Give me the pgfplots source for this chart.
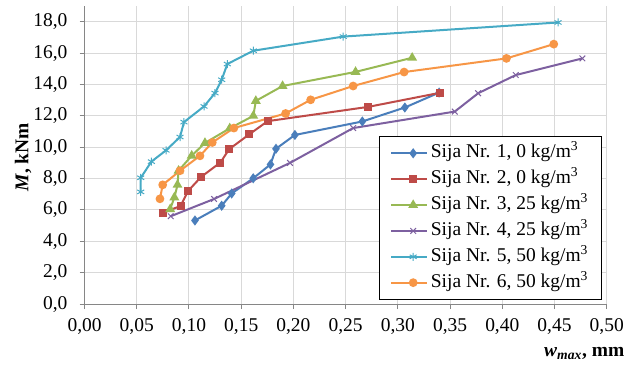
\documentclass[border=0pt]{standalone}
\usepackage{fontspec}
\setmainfont{Liberation Serif}
\usepackage{pgfplots}
\pgfplotsset{compat=1.18}
\definecolor{s1}{HTML}{4A7EBB}
\definecolor{s2}{HTML}{BE4B48}
\definecolor{s3}{HTML}{98B954}
\definecolor{s4}{HTML}{7D60A0}
\definecolor{s5}{HTML}{46AAC5}
\definecolor{s6}{HTML}{F79646}
\definecolor{gridc}{HTML}{D9D9D9}
\definecolor{axc}{HTML}{868686}
\begin{document}
\fontsize{14.6}{17}\selectfont
\begin{tikzpicture}
\begin{axis}[
  name=ax,
  scale only axis,
  width=391.5pt, height=223.5pt,
  xmin=0, xmax=0.5, ymin=0, ymax=19,
  xtick={0,0.05,0.1,0.15,0.2,0.25,0.3,0.35,0.4,0.45,0.5},
  ytick={0,2,4,6,8,10,12,14,16,18},
  axis x line*=bottom, axis y line*=left,
  axis line style={axc, line width=0.75pt, -},
  tick align=outside,
  major tick length=3.75pt,
  tick style={axc, line width=0.75pt},
  grid=major,
  major grid style={gridc, line width=0.75pt},
  /pgf/number format/assume math mode=true,
  xticklabel style={yshift=-2pt, /pgf/number format/.cd, fixed, fixed zerofill, precision=2, use comma},
  yticklabel style={xshift=-4pt, /pgf/number format/.cd, fixed, fixed zerofill, precision=1, use comma},
  every tick label/.append style={font=\fontsize{14.6}{17}\selectfont, text=black},
  ylabel={\textbf{\textit{M}, kNm}},
  ylabel style={at={(rel axis cs:0,0.5)}, anchor=center, yshift=46pt, xshift=-1.5pt, font=\fontsize{14.6}{17}\selectfont},
  xlabel={\textbf{\textit{w}\textsubscript{\textit{max}}, mm}},
  xlabel style={at={(rel axis cs:1,0)}, anchor=base east, xshift=18.2pt, yshift=-39.5pt, font=\fontsize{14.6}{17}\selectfont},
  legend cell align=left,
  legend style={at={(rel axis cs:0.991,0.0134)}, anchor=south east, draw=black, line width=0.75pt,
    font=\fontsize{14.6}{17}\selectfont, inner xsep=8pt, inner ysep=3pt,
    nodes={inner ysep=2.2pt, text height=11pt, text depth=4pt},
    /tikz/every even column/.append style={column sep=5pt}},
  legend image code/.code={\path (0pt,0pt) -- (6pt,0pt); \draw[#1, line width=1.5pt, mark repeat=2, mark phase=2] plot coordinates {(6pt,0pt) (16.5pt,0pt) (27pt,0pt)};},
  every axis plot/.append style={line width=1.5pt},
]
\addplot[s1, mark=diamond*, mark size=2.6pt, mark options={solid, fill=s1}] coordinates {
(0.1057,5.33) (0.1313,6.27) (0.1409,7.05) (0.1615,8.02) (0.178,8.9) (0.1833,9.9) (0.2014,10.78) (0.266,11.64) (0.3067,12.53) (0.3395,13.48)};
\addlegendentry{Sija Nr. 1, 0 kg/m\textsuperscript{3}}
\addplot[s2, mark=square*, mark size=2.2pt, mark options={solid, fill=s2}] coordinates {
(0.0754,5.82) (0.092,6.26) (0.099,7.2) (0.1115,8.1) (0.130,9.02) (0.1386,9.88) (0.1577,10.82) (0.1753,11.66) (0.2716,12.57) (0.3405,13.47)};
\addlegendentry{Sija Nr. 2, 0 kg/m\textsuperscript{3}}
\addplot[s3, mark=triangle*, mark size=2.8pt, mark options={solid, fill=s3}] coordinates {
(0.082,6.05) (0.086,6.8) (0.089,7.6) (0.090,8.5) (0.1026,9.46) (0.1153,10.27) (0.139,11.2) (0.1616,12.0) (0.164,12.95) (0.1896,13.9) (0.2595,14.8) (0.3137,15.7)};
\addlegendentry{Sija Nr. 3, 25 kg/m\textsuperscript{3}}
\addplot[s4, mark=x, mark size=3pt, mark options={solid, line width=0.75pt}] coordinates {
(0.0825,5.6) (0.124,6.7) (0.1967,9.0) (0.2572,11.22) (0.3545,12.27) (0.3769,13.44) (0.4129,14.6) (0.4767,15.66)};
\addlegendentry{Sija Nr. 4, 25 kg/m\textsuperscript{3}}
\addplot[s5, mark=asterisk, mark size=3pt, mark options={solid, line width=0.75pt}] coordinates {
(0.0538,7.15) (0.0538,8.05) (0.064,9.08) (0.078,9.8) (0.0914,10.65) (0.0952,11.6) (0.1144,12.6) (0.1249,13.45) (0.1313,14.3) (0.1367,15.3) (0.1616,16.15) (0.2477,17.05) (0.4534,17.95)};
\addlegendentry{Sija Nr. 5, 50 kg/m\textsuperscript{3}}
\addplot[s6, mark=*, mark size=2.5pt, mark options={solid, fill=s6}] coordinates {
(0.0722,6.71) (0.0748,7.6) (0.0914,8.5) (0.1105,9.45) (0.1223,10.3) (0.143,11.22) (0.1925,12.15) (0.2165,13.02) (0.2572,13.9) (0.306,14.79) (0.404,15.66) (0.4493,16.57)};
\addlegendentry{Sija Nr. 6, 50 kg/m\textsuperscript{3}}
\end{axis}
\pgfresetboundingbox
\path ([shift={(-63.4pt,-45pt)}]ax.south west) rectangle ([shift={(18.2pt,4.5pt)}]ax.north east);
\end{tikzpicture}
\end{document}
